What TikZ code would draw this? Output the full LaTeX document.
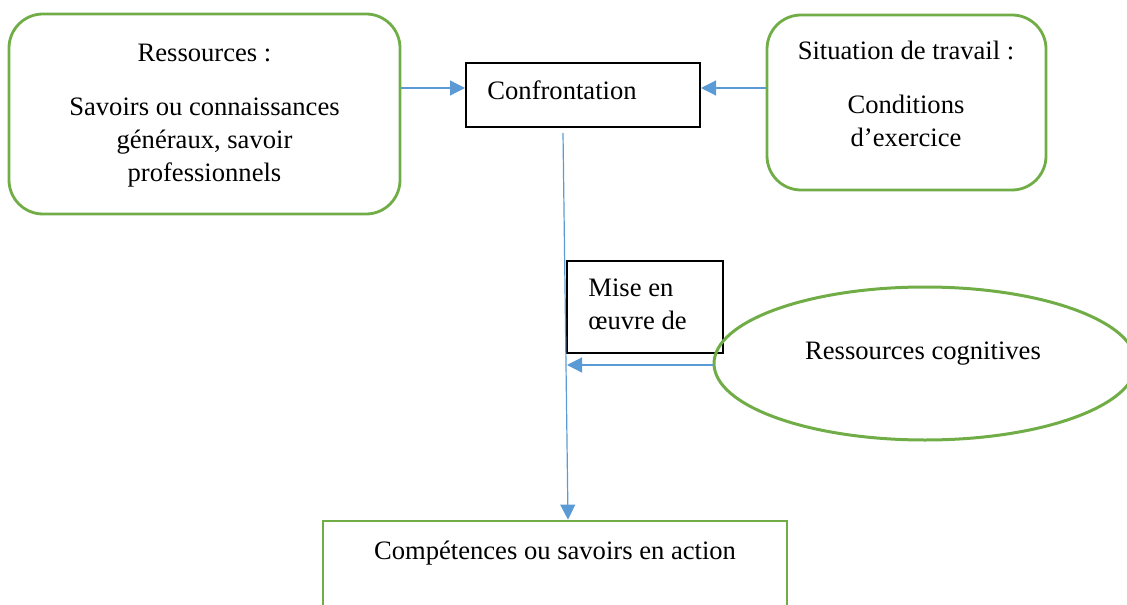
\documentclass[tikz,border=0pt]{standalone}
\usepackage{fontspec}
\setmainfont{Liberation Serif}
\usetikzlibrary{calc,arrows.meta,shapes.geometric}
\definecolor{leaf}{RGB}{112,173,71}
\definecolor{sky}{RGB}{91,155,213}
\tikzset{
  txt/.style={font=\fontsize{13.3}{16.5}\selectfont, inner sep=0pt},
  roundbox/.style={draw=leaf, line width=1.4pt, rounded corners=17pt, inner sep=0pt},
  greenbox/.style={draw=leaf, line width=1.4pt, inner sep=0pt},
  blackbox/.style={draw=black, line width=1pt, inner sep=0pt},
  oval/.style={ellipse, draw=leaf, line width=1.5pt, inner sep=0pt},
  link/.style={draw=sky, line width=0.6pt, -{Triangle[length=7.5pt,width=7.5pt]}}
}
\begin{document}
\begin{tikzpicture}[x=0.5pt,y=-0.5pt]
\useasboundingbox (0,0) rectangle (1127,604);

% frames
\node[roundbox, minimum width=195.5pt, minimum height=100pt] (res) at (204.5,114) {};
\node[roundbox, minimum width=139.5pt, minimum height=87.5pt] (sit) at (906.5,102.5) {};
\node[blackbox, minimum width=117pt, minimum height=32pt] (conf) at (583,95) {};
\node[blackbox, minimum width=78pt, minimum height=46pt] (mise) at (645,307) {};
\node[oval, minimum width=211pt, minimum height=76.5pt] (ell) at (925,363.5) {};
\node[greenbox, minimum width=232pt, minimum height=64.5pt] (comp) at (555,585.5) {};

% texts
\node[txt] (resT) at (204.5,53) {Ressources :};
\node[txt, align=center, anchor=north] (resB) at (204.5,97) {Savoirs ou connaissances\\ généraux, savoir\\ professionnels};
\node[txt] (sitT) at (906,50) {Situation de travail :};
\node[txt, align=center] (sitB) at (906,121) {Conditions\\ d’exercice};
\node[txt, anchor=west] (confT) at (487,90) {Confrontation};
\node[txt, align=left, anchor=west] (miseT) at (588,304) {Mise en\\ œuvre de};
\node[txt] (ellT) at (923,354) {Ressources cognitives};
\node[txt] (compT) at (555,553) {Compétences ou savoirs en action};

% connectors
\coordinate (join) at (567,365);
\draw[link] (res.east |- 0,88) -- (conf.west |- 0,88);
\draw[link] (sit.west |- 0,88) -- (conf.east |- 0,88);
\draw[link] ($(conf.south)+(-20,5)$) -- ($(comp.north)+(13,0)$);
\draw[link] (ell.west |- join) -- (join);
\end{tikzpicture}
\end{document}
